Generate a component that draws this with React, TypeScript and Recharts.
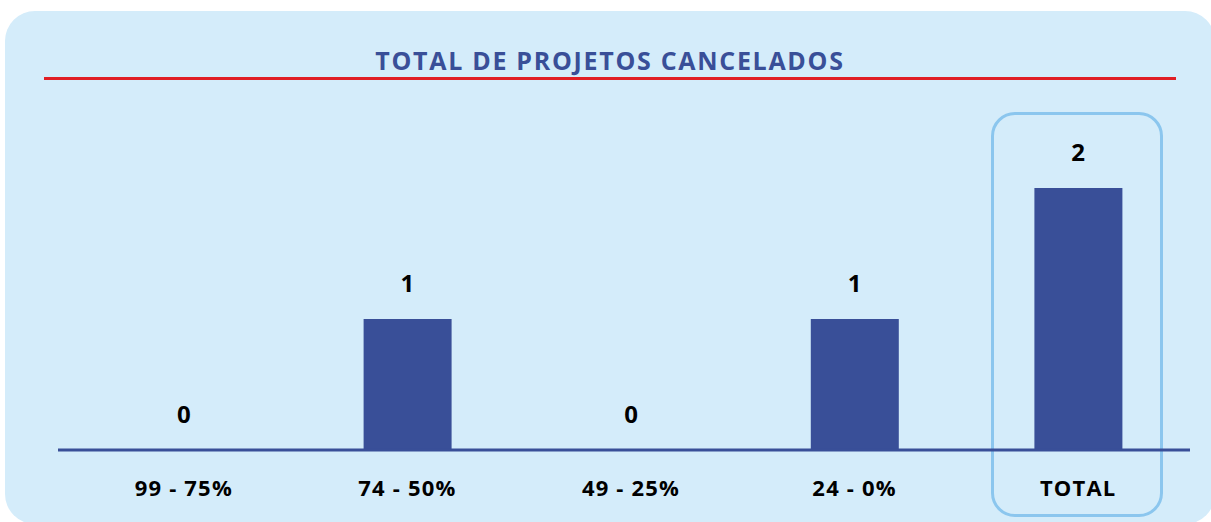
import React from 'react';
import { ComposedChart, Bar, Scatter, XAxis, YAxis } from 'recharts';

// faixas de conclusão dos projetos cancelados
const categories = ['99 - 75%', '74 - 50%', '49 - 25%', '24 - 0%', 'TOTAL'];
const cancelados = [0, 1, 0, 1, 2];

const BLUE = '#394F98';
const FONT = '"Open Sans", "Noto Sans", sans-serif';

const data = categories.map((faixa, i) => ({ faixa, valor: cancelados[i] }));

// rótulo do valor acima da barra (também para barras com valor 0)
const ValueLabel = (props: any) => {
  const { cx, cy, payload } = props;
  if (cx == null || cy == null) return <g />;
  return (
    <text
      x={cx}
      y={cy - 37}
      textAnchor="middle"
      dominantBaseline="central"
      fill="#000"
      fontSize={24}
      fontWeight={700}
      fontFamily={FONT}
    >
      {String(payload.valor)}
    </text>
  );
};

const App: React.FC = () => {
  return (
    <div
      style={{
        position: 'absolute',
        left: 0,
        top: 0,
        width: 1211,
        height: 522,
        background: '#fff',
        overflow: 'hidden',
        fontFamily: FONT,
      }}
    >
      {/* card */}
      <div
        style={{
          position: 'absolute',
          left: 5,
          top: 11,
          width: 1210,
          height: 513,
          background: '#D4ECFA',
          borderRadius: 30,
        }}
      />

      {/* title */}
      <div
        style={{
          position: 'absolute',
          left: 44,
          width: 1132,
          top: 43,
          textAlign: 'center',
          color: BLUE,
          fontSize: 25,
          fontWeight: 700,
          letterSpacing: 1.7,
          lineHeight: '34px',
        }}
      >
        TOTAL DE PROJETOS CANCELADOS
      </div>
      <div
        style={{
          position: 'absolute',
          left: 44,
          top: 77,
          width: 1132,
          height: 3,
          background: '#E01E24',
        }}
      />

      {/* destaque da coluna TOTAL */}
      <div
        style={{
          position: 'absolute',
          left: 991,
          top: 112,
          width: 166,
          height: 399,
          border: '3px solid #8BC6EE',
          borderRadius: 24,
        }}
      />

      <div style={{ position: 'absolute', left: 0, top: 0 }}>
        <ComposedChart
          width={1211}
          height={522}
          data={data}
          margin={{ top: 188, right: 21, bottom: 32, left: 58 }}
          barSize={88}
        >
          <XAxis
            dataKey="faixa"
            height={40}
            padding={{ left: 14, right: 0 }}
            axisLine={{ stroke: BLUE, strokeWidth: 3 }}
            tickLine={false}
            tick={{
              fill: '#000',
              fontSize: 22,
              fontWeight: 700,
              fontFamily: FONT,
              letterSpacing: 1.2,
            }}
            tickMargin={24}
            interval={0}
          />
          <YAxis hide domain={[0, 2]} />
          <Bar dataKey="valor" fill={BLUE} isAnimationActive={false} />
          <Scatter dataKey="valor" shape={ValueLabel} isAnimationActive={false} />
        </ComposedChart>
      </div>
    </div>
  );
};

export default App;
